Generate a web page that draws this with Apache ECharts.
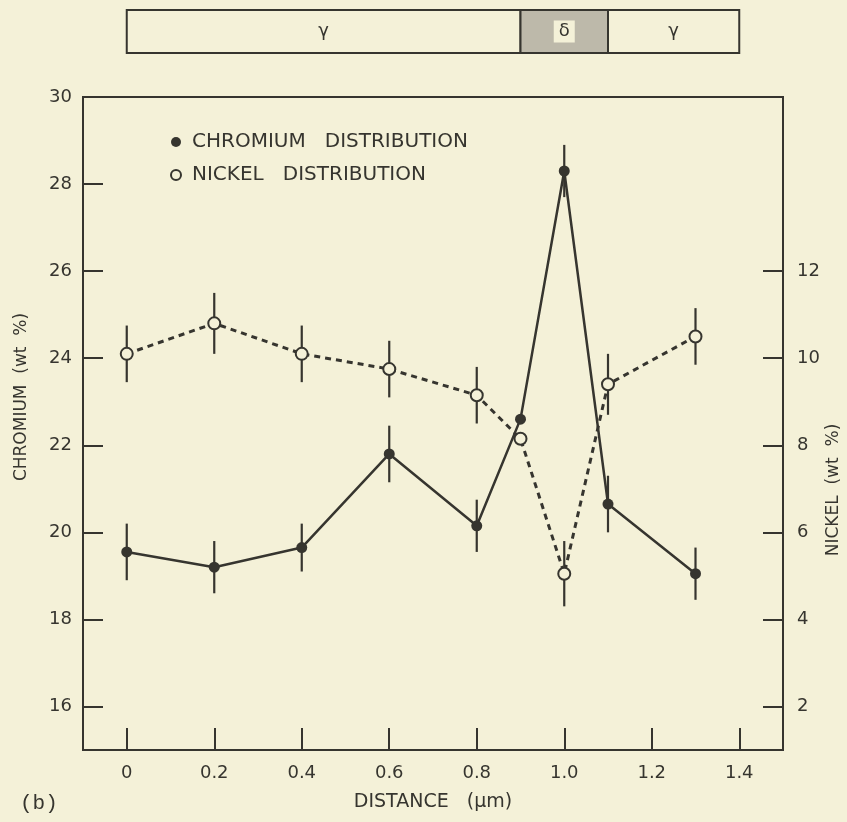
<!DOCTYPE html>
<html>
<head>
<meta charset="utf-8">
<script src="https://cdn.jsdelivr.net/npm/echarts@6/dist/echarts.min.js"></script>
<style>
  html, body { margin: 0; padding: 0; background: #f4f1d8; }
  #main { width: 847px; height: 822px; }
</style>
</head>
<body>
<div id="main"></div>
<script>
// distance along the scan (µm)
const distance = [0, 0.2, 0.4, 0.6, 0.8, 0.9, 1.0, 1.1, 1.3];
// chromium wt % (left axis) and its error half-width
const chromium = [19.55, 19.2, 19.65, 21.8, 20.15, 22.6, 28.3, 20.65, 19.05];
const chromiumErr = [0.65, 0.6, 0.55, 0.65, 0.6, 0, 0.6, 0.65, 0.6];
// nickel wt % (right axis) and its error half-width
const nickel = [10.1, 10.8, 10.1, 9.75, 9.15, 8.15, 5.05, 9.4, 10.5];
const nickelErr = [0.65, 0.7, 0.65, 0.65, 0.65, 0, 0.75, 0.7, 0.65];

// tick values
const xTicks = [0, 0.2, 0.4, 0.6, 0.8, 1.0, 1.2, 1.4];
const crTicks = [16, 18, 20, 22, 24, 26, 28];
const crLabels = [16, 18, 20, 22, 24, 26, 28, 30];
const niTicks = [2, 4, 6, 8, 10, 12];

// phase bar across the top: label, from, to
const phaseNames = ['γ', 'δ', 'γ'];
const phaseFrom = [0, 0.9, 1.1];
const phaseTo = [0.9, 1.1, 1.4];

const ink = '#36352f';
const paper = '#f4f1d8';
const font = 'DejaVu Sans';

var chart = echarts.init(document.getElementById('main'));

function errData(vals, errs) {
  var out = [];
  distance.forEach(function (d, i) {
    if (errs[i] > 0) out.push([d, vals[i] - errs[i], vals[i] + errs[i]]);
  });
  return out;
}

function renderErr(params, api) {
  var p1 = api.coord([api.value(0), api.value(1)]);
  var p2 = api.coord([api.value(0), api.value(2)]);
  return {
    type: 'line',
    shape: { x1: p1[0], y1: p1[1], x2: p2[0], y2: p2[1] },
    style: { stroke: ink, lineWidth: 2.2 }
  };
}

var option = {
  backgroundColor: paper,
  animation: false,
  textStyle: { fontFamily: font, color: ink },
  grid: [
    { left: 83, right: 64, top: 97, bottom: 72, show: true, borderColor: ink, borderWidth: 2 },
    { left: 83, right: 64, top: 10, height: 43 }
  ],
  legend: {
    orient: 'vertical',
    left: 170,
    top: 132,
    padding: 0,
    itemWidth: 10,
    itemHeight: 10,
    itemGap: 13,
    selectedMode: false,
    textStyle: { fontSize: 20, color: ink, fontFamily: font, padding: [0, 0, 0, 6] },
    data: [
      { name: 'CHROMIUM   DISTRIBUTION', icon: 'circle', itemStyle: { color: ink } },
      { name: 'NICKEL   DISTRIBUTION', icon: 'circle', itemStyle: { color: paper, borderColor: ink, borderWidth: 2 } }
    ]
  },
  xAxis: [
    {
      gridIndex: 0, type: 'value', min: -0.1, max: 1.5,
      axisLine: { onZero: false, lineStyle: { color: ink, width: 2 } },
      axisTick: { inside: true, length: 22, customValues: xTicks, lineStyle: { color: ink, width: 2 } },
      axisLabel: {
        customValues: xTicks, margin: 14, fontSize: 18, color: ink,
        formatter: function (v) { return v === 0 ? '0' : v.toFixed(1); }
      },
      splitLine: { show: false },
      name: 'DISTANCE   (μm)', nameLocation: 'middle', nameGap: 43,
      nameTextStyle: { fontSize: 19, color: ink }
    },
    { gridIndex: 1, type: 'value', min: -0.1, max: 1.5, show: false }
  ],
  yAxis: [
    {
      gridIndex: 0, type: 'value', min: 15, max: 30,
      axisLine: { onZero: false, lineStyle: { color: ink, width: 2 } },
      axisTick: { inside: true, length: 20, customValues: crTicks, lineStyle: { color: ink, width: 2 } },
      axisLabel: { customValues: crLabels, margin: 11, fontSize: 18, color: ink },
      splitLine: { show: false }
    },
    {
      gridIndex: 0, type: 'value', min: 1, max: 16, position: 'right',
      axisLine: { show: true, onZero: false, lineStyle: { color: ink, width: 2 } },
      axisTick: { inside: true, length: 20, customValues: niTicks, lineStyle: { color: ink, width: 2 } },
      axisLabel: { customValues: niTicks, margin: 14, fontSize: 18, color: ink },
      splitLine: { show: false }
    },
    { gridIndex: 1, type: 'value', min: 0, max: 1, show: false }
  ],
  graphic: [
    {
      type: 'text', x: 22, y: 397, rotation: Math.PI / 2,
      style: { text: 'CHROMIUM  (wt  %)', fontSize: 17, fontFamily: font, fill: ink, align: 'center', verticalAlign: 'middle' }
    },
    {
      type: 'text', x: 834, y: 490, rotation: Math.PI / 2,
      style: { text: 'NICKEL  (wt  %)', fontSize: 17, fontFamily: font, fill: ink, align: 'center', verticalAlign: 'middle' }
    },
    {
      type: 'text', x: 20, y: 803,
      style: { text: '(b)', fontSize: 21, fontFamily: 'Liberation Mono', fill: ink, align: 'left', verticalAlign: 'middle' }
    }
  ],
  series: [
    {
      type: 'custom', xAxisIndex: 1, yAxisIndex: 2, clip: false, silent: true,
      data: phaseFrom.map(function (f, i) { return [f, phaseTo[i]]; }),
      encode: { x: [0, 1] },
      renderItem: function (params, api) {
        var i = params.dataIndex;
        var a = api.coord([api.value(0), 1]);
        var b = api.coord([api.value(1), 0]);
        return {
          type: 'group',
          children: [
            {
              type: 'rect',
              shape: { x: a[0], y: a[1], width: b[0] - a[0], height: b[1] - a[1] },
              style: { fill: i === 1 ? '#bdb9aa' : paper, stroke: ink, lineWidth: 2 }
            },
            {
              type: 'text',
              style: {
                text: phaseNames[i], x: (a[0] + b[0]) / 2, y: (a[1] + b[1]) / 2,
                align: 'center', verticalAlign: 'middle', fill: ink,
                font: '18px ' + font,
                backgroundColor: i === 1 ? paper : 'transparent', padding: [2, 5]
              }
            }
          ]
        };
      }
    },
    {
      type: 'custom', name: 'crErr', xAxisIndex: 0, yAxisIndex: 0, z: 1,
      data: errData(chromium, chromiumErr), renderItem: renderErr
    },
    {
      type: 'custom', name: 'niErr', xAxisIndex: 0, yAxisIndex: 1, z: 1,
      data: errData(nickel, nickelErr), renderItem: renderErr
    },
    {
      type: 'line', name: 'NICKEL   DISTRIBUTION', xAxisIndex: 0, yAxisIndex: 1, z: 3,
      data: distance.map(function (d, i) { return [d, nickel[i]]; }),
      symbol: 'circle', symbolSize: 12,
      itemStyle: { color: paper, borderColor: ink, borderWidth: 2 },
      lineStyle: { color: ink, width: 3, type: [6, 5] }
    },
    {
      type: 'line', name: 'CHROMIUM   DISTRIBUTION', xAxisIndex: 0, yAxisIndex: 0, z: 4,
      data: distance.map(function (d, i) { return [d, chromium[i]]; }),
      symbol: 'circle', symbolSize: 11,
      itemStyle: { color: ink },
      lineStyle: { color: ink, width: 2.5 }
    }
  ]
};

chart.setOption(option);
</script>
</body>
</html>
